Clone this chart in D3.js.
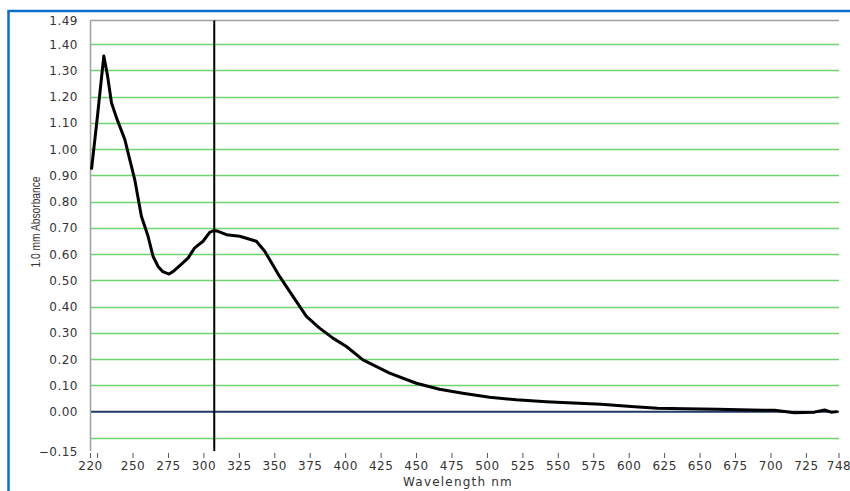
<!DOCTYPE html>
<html>
<head>
<meta charset="utf-8">
<script src="https://cdn.jsdelivr.net/npm/d3@7"></script>
<style>
  body { margin: 0; background: #fff; }
  svg text { font-family: "DejaVu Sans", Verdana, sans-serif; fill: #333; }
</style>
</head>
<body>
<div id="chart"></div>
<script>
// spectrum (wavelength nm, absorbance)
var wavelength = [220.7, 225, 229.4, 232, 234.8, 238.3, 244.2, 247.7, 251.2, 255.9, 260.6, 264.1, 267.7, 271, 275.4,
                  279, 283, 288.8, 293.5, 299.4, 304.1, 307, 310, 315.9, 325.2, 337, 342.9, 353.4, 362.8, 372.3,
                  381.6, 391, 400.5, 412.2, 431, 449.8, 466.2, 482.6, 501.5, 520.3, 541.4, 556.8, 580, 603.8,
                  620, 639, 662.6, 686, 702.5, 716.6, 730.7, 737.8, 742.5, 747];
var absorbance = [0.922, 1.13, 1.355, 1.28, 1.177, 1.12, 1.037, 0.96, 0.884, 0.744, 0.668, 0.592, 0.553, 0.533, 0.524,
                  0.537, 0.556, 0.585, 0.624, 0.649, 0.683, 0.69, 0.687, 0.674, 0.668, 0.649, 0.611, 0.515, 0.439, 0.363,
                  0.318, 0.28, 0.248, 0.197, 0.147, 0.108, 0.085, 0.07, 0.055, 0.045, 0.038, 0.034, 0.028, 0.019,
                  0.013, 0.011, 0.009, 0.006, 0.005, -0.004, -0.002, 0.006, -0.002, 0.0];

var yTickValues = [1.49, 1.40, 1.30, 1.20, 1.10, 1.00, 0.90, 0.80, 0.70, 0.60, 0.50, 0.40, 0.30, 0.20, 0.10, 0.00, -0.15];
var gridValues = [1.40, 1.30, 1.20, 1.10, 1.00, 0.90, 0.80, 0.70, 0.60, 0.50, 0.40, 0.30, 0.20, 0.10, -0.10];
var xTickLabels = [220, 250, 275, 300, 325, 350, 375, 400, 425, 450, 475, 500, 525, 550, 575, 600, 625, 650, 675, 700, 725, 748];
var xTickMarks = [220, 225].concat(xTickLabels.slice(1));
var cursorAt = 307.3;

var width = 850, height = 491;
var plot = {left: 90.5, right: 839, top: 20.5, bottom: 451};

var svg = d3.select("#chart").append("svg")
    .attr("width", width)
    .attr("height", height);

var x = d3.scaleLinear().domain([220, 748]).range([plot.left, plot.right]);
var y = d3.scaleLinear().domain([-0.15, 1.49]).range([plot.bottom, plot.top]);

// blue frame
svg.append("rect")
    .attr("x", 8.5).attr("y", 11)
    .attr("width", 900).attr("height", 600)
    .attr("fill", "none")
    .attr("stroke", "#0a6fcf")
    .attr("stroke-width", 2.5);

// green grid lines
svg.append("g").selectAll("line")
    .data(gridValues)
    .enter().append("line")
    .attr("x1", plot.left).attr("x2", plot.right)
    .attr("y1", function(d) { return Math.round(y(d)) + 0.5; })
    .attr("y2", function(d) { return Math.round(y(d)) + 0.5; })
    .attr("stroke", "#6fd46f")
    .attr("stroke-width", 1.5);

// top border
svg.append("line")
    .attr("x1", plot.left).attr("x2", plot.right)
    .attr("y1", y(1.49)).attr("y2", y(1.49))
    .attr("stroke", "#a0a0a0").attr("stroke-width", 1.5);

// zero line
svg.append("line")
    .attr("x1", plot.left).attr("x2", plot.right)
    .attr("y1", y(0)).attr("y2", y(0))
    .attr("stroke", "#1f3a66").attr("stroke-width", 2);

// left axis line
svg.append("line")
    .attr("x1", plot.left).attr("x2", plot.left)
    .attr("y1", plot.top).attr("y2", plot.bottom)
    .attr("stroke", "#a0a0a0").attr("stroke-width", 1.5);

// y tick labels
svg.append("g").selectAll("text")
    .data(yTickValues)
    .enter().append("text")
    .attr("x", 78)
    .attr("y", function(d) { return y(d) + 4.5; })
    .attr("text-anchor", "end")
    .style("font-size", "12px")
    .style("letter-spacing", "0.5px")
    .text(function(d) { return d3.format(".2f")(d); });

// x tick marks
svg.append("g").selectAll("line")
    .data(xTickMarks)
    .enter().append("line")
    .attr("x1", function(d) { return x(d); })
    .attr("x2", function(d) { return x(d); })
    .attr("y1", 453).attr("y2", 458)
    .attr("stroke", "#555").attr("stroke-width", 1);

// x tick labels
svg.append("g").selectAll("text")
    .data(xTickLabels)
    .enter().append("text")
    .attr("x", function(d) { return x(d); })
    .attr("y", 470)
    .attr("text-anchor", "middle")
    .style("font-size", "12px")
    .style("letter-spacing", "0.5px")
    .text(function(d) { return d; });

// axis titles
svg.append("text")
    .attr("x", 458).attr("y", 486)
    .attr("text-anchor", "middle")
    .style("font-size", "12px")
    .style("letter-spacing", "1.2px")
    .text("Wavelength nm");

svg.append("text")
    .attr("transform", "translate(40,222) rotate(-90) scale(0.82,1)")
    .attr("text-anchor", "middle")
    .style("font-family", "'Liberation Sans', Arial, sans-serif")
    .style("font-size", "12.5px")
    .text("1.0 mm Absorbance");

// spectrum
var points = wavelength.map(function(w, i) { return [w, absorbance[i]]; });
var line = d3.line()
    .x(function(d) { return x(d[0]); })
    .y(function(d) { return y(d[1]); });

svg.append("path")
    .datum(points)
    .attr("d", line)
    .attr("fill", "none")
    .attr("stroke", "#000")
    .attr("stroke-width", 3)
    .attr("stroke-linejoin", "round");

// cursor
svg.append("line")
    .attr("x1", x(cursorAt)).attr("x2", x(cursorAt))
    .attr("y1", plot.top).attr("y2", plot.bottom)
    .attr("stroke", "#000").attr("stroke-width", 2);
</script>
</body>
</html>
